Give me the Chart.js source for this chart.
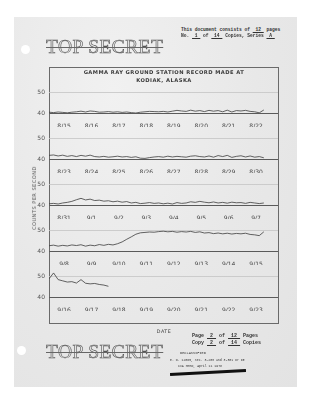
<!DOCTYPE html>
<html>
<head>
<meta charset="utf-8">
<script src="https://cdn.jsdelivr.net/npm/chart.js@4"></script>
<style>
  html, body { margin: 0; padding: 0; background: #fff; }
  body { width: 312px; height: 400px; position: relative; overflow: hidden; }
  #paper { position: absolute; left: 14px; top: 17px; width: 283px; height: 370px;
           background: radial-gradient(ellipse at 35% 20%, #f1f1f1 0%, #e8e8e8 55%, #e3e3e3 100%); }
  .hole { position: absolute; width: 9px; height: 9px; border-radius: 50%; background: #fff; }
  .stamp { position: absolute; font-family: "Liberation Serif", serif; font-size: 19.5px; letter-spacing: 0.4px;
           color: #e6e6e6; -webkit-text-stroke: 0.6px #555; text-decoration: line-through; text-decoration-color: #666;
           text-decoration-thickness: 1px; white-space: nowrap; line-height: 1; will-change: transform; }
  .type { position: absolute; font-family: "Liberation Mono", monospace; color: #333; white-space: nowrap; line-height: 1; }
  #box { position: absolute; left: 49px; top: 67px; width: 228px; height: 255px; border: 1px solid #6a6a6a; }
  .title { position: absolute; left: 49px; width: 230px; text-align: center; font-family: "DejaVu Sans", sans-serif;
           font-weight: bold; font-size: 5.2px; letter-spacing: 0.45px; color: #3a3a3a; line-height: 1; }
  canvas { position: absolute; }
  #ylab { position: absolute; left: 34px; top: 198px; transform: translate(-50%, -50%) rotate(-90deg);
          font-family: "DejaVu Sans", sans-serif; font-size: 5px; letter-spacing: 0.5px; color: #555; white-space: nowrap;
          will-change: transform; }
  #bar { position: absolute; left: 170px; top: 371px; width: 76px; height: 3px; background: #111; transform: rotate(-3deg); }
</style>
</head>
<body>
<div id="paper"></div>
<div class="hole" style="left:21px;top:45px"></div>
<div class="hole" style="left:17px;top:346px"></div>

<div class="stamp" style="left:46px;top:37px">TOP SECRET</div>
<div class="type" style="left:181px;top:28px;font-size:4.6px;font-weight:bold">This document consists of <u>&nbsp;12&nbsp;</u> pages</div>
<div class="type" style="left:181px;top:34px;font-size:4.6px;font-weight:bold">No. <u>&nbsp;1&nbsp;</u> of <u>&nbsp;14&nbsp;</u> Copies, Series <u>&nbsp;A&nbsp;</u></div>

<div id="box"></div>
<div class="title" style="top:70px">GAMMA RAY GROUND STATION RECORD MADE AT</div>
<div class="title" style="top:78px">KODIAK, ALASKA</div>
<div id="ylab">COUNTS PER SECOND</div>

<canvas id="c0" width="250" height="62"></canvas>
<canvas id="c1" width="250" height="62"></canvas>
<canvas id="c2" width="250" height="62"></canvas>
<canvas id="c3" width="250" height="62"></canvas>
<canvas id="c4" width="250" height="62"></canvas>

<div class="title" style="top:330px;font-weight:normal;font-size:4.8px">DATE</div>
<div class="stamp" style="left:46px;top:342px">TOP SECRET</div>
<div class="type" style="left:192px;top:334px;font-size:5px;font-weight:bold">Page <u>&nbsp;2&nbsp;</u> of <u>&nbsp;12&nbsp;</u> Pages</div>
<div class="type" style="left:192px;top:341px;font-size:5px;font-weight:bold">Copy <u>&nbsp;2&nbsp;</u> of <u>&nbsp;14&nbsp;</u> Copies</div>
<div class="type" style="left:180px;top:352px;font-size:3.6px">DECLASSIFIED</div>
<div class="type" style="left:170px;top:359px;font-size:3.2px">E. O. 12065, Sec. 3-203 and 3-301 or DE</div>
<div class="type" style="left:178px;top:365px;font-size:3.2px">CIA Memo, April 11 1978</div>
<div id="bar"></div>

<script>
// day labels for each strip
const labels1 = ['8/15', '8/16', '8/17', '8/18', '8/19', '8/20', '8/21', '8/22'];
const labels2 = ['8/23', '8/24', '8/25', '8/26', '8/27', '8/28', '8/29', '8/30'];
const labels3 = ['8/31', '9/1', '9/2', '9/3', '9/4', '9/5', '9/6', '9/7'];
const labels4 = ['9/8', '9/9', '9/10', '9/11', '9/12', '9/13', '9/14', '9/15'];
const labels5 = ['9/16', '9/17', '9/18', '9/19', '9/20', '9/21', '9/22', '9/23'];

const yTicks = [40, 50];
const readingsPerDay = 6;

// counts per second (6 readings a day)
const counts1 = [40.4,40.2,40.5,40.3,40.1,40.4, 40.6,40.9,40.5,41.0,40.8,40.4, 40.5,40.7,40.4,40.6,40.3,40.5,
                 40.2,40.0,40.4,40.6,40.8,40.7, 40.6,40.8,40.5,40.9,41.3,41.0, 40.8,41.4,40.9,41.2,40.7,41.3,
                 40.9,41.2,40.6,41.4,40.5,41.2, 41.0,41.3,40.8,40.6,40.1,41.5];
const counts2 = [41.8,42.0,41.5,41.9,41.3,41.7, 41.2,41.8,41.4,41.9,41.2,41.0, 41.3,40.9,41.1,41.4,41.0,41.2,
                 40.8,41.1,40.4,40.3,40.7,41.0, 41.2,40.9,41.4,41.0,41.3,41.1, 40.9,41.4,41.6,41.2,41.0,41.5,
                 40.9,41.7,41.2,41.8,40.8,41.3, 41.6,41.0,41.5,40.9,41.2,40.6];
const counts3 = [40.6,40.8,40.5,41.0,41.3,41.8, 42.6,43.3,42.5,42.9,42.2,42.4, 41.9,42.1,41.6,41.9,41.4,41.7,
                 41.0,41.3,40.7,40.9,41.2,40.8, 41.0,40.6,40.9,40.5,41.2,40.8, 41.0,41.6,41.3,41.8,41.4,41.1,
                 41.5,41.0,41.3,40.9,41.4,41.1, 41.2,40.8,41.3,41.0,40.7,41.0];
const counts4 = [42.6,42.9,42.4,42.8,42.5,43.0, 42.7,43.1,42.4,42.9,42.6,43.2, 42.8,43.3,43.0,43.6,44.5,45.8,
                 47.0,48.3,49.0,49.2,49.4,49.3, 49.6,49.8,49.5,49.7,49.3,49.6, 49.4,49.7,49.2,49.5,48.9,49.1,
                 48.6,48.9,48.5,48.8,48.4,48.7, 48.5,48.8,48.2,48.0,47.6,49.5];
const counts5 = [49.0,51.9,48.6,48.0,47.4,47.6, 46.9,48.6,46.8,46.5,46.7,46.2, 45.9,45.3];

const strips = [
    { id: 'c0', labels: labels1, counts: counts1, base: 113 },
    { id: 'c1', labels: labels2, counts: counts2, base: 159 },
    { id: 'c2', labels: labels3, counts: counts3, base: 205 },
    { id: 'c3', labels: labels4, counts: counts4, base: 251 },
    { id: 'c4', labels: labels5, counts: counts5, base: 297 },
];

const tickFont = { family: 'DejaVu Sans', size: 6 };

strips.forEach(s => {
    const canvas = document.getElementById(s.id);
    canvas.style.left = '28px';
    canvas.style.top = (s.base - 48) + 'px';

    const points = s.counts.map((v, i) => ({ x: i / readingsPerDay, y: v }));

    new Chart(canvas.getContext('2d'), {
        type: 'line',
        data: {
            datasets: [{
                data: points,
                borderColor: '#3c3c3c',
                borderWidth: 0.8,
                pointRadius: 0,
                fill: false,
                tension: 0
            }]
        },
        options: {
            responsive: false,
            animation: false,
            devicePixelRatio: 1,
            layout: { padding: { top: 2, right: 0, left: 0, bottom: 0 } },
            plugins: { legend: { display: false }, tooltip: { enabled: false } },
            scales: {
                x: {
                    type: 'linear',
                    min: 0,
                    max: 8.35,
                    afterFit: sc => { sc.height = 14; },
                    afterBuildTicks: sc => { sc.ticks = s.labels.map((l, i) => ({ value: i + 0.55 })); },
                    grid: { display: false },
                    border: { display: true, color: '#5a5a5a', width: 1 },
                    ticks: {
                        autoSkip: false,
                        maxRotation: 0,
                        padding: 2,
                        color: '#444',
                        font: tickFont,
                        callback: (v, i) => s.labels[i]
                    }
                },
                y: {
                    min: 40,
                    max: 60,
                    afterFit: sc => { sc.width = 21; },
                    afterBuildTicks: sc => { sc.ticks = yTicks.map(v => ({ value: v })); },
                    grid: {
                        color: ctx => ctx.tick && ctx.tick.value === 50 ? '#c4c4c4' : 'rgba(0,0,0,0)',
                        drawTicks: false,
                        lineWidth: 0.8
                    },
                    border: { display: false },
                    ticks: { padding: 4, color: '#555', font: tickFont }
                }
            }
        }
    });
});
</script>
</body>
</html>
